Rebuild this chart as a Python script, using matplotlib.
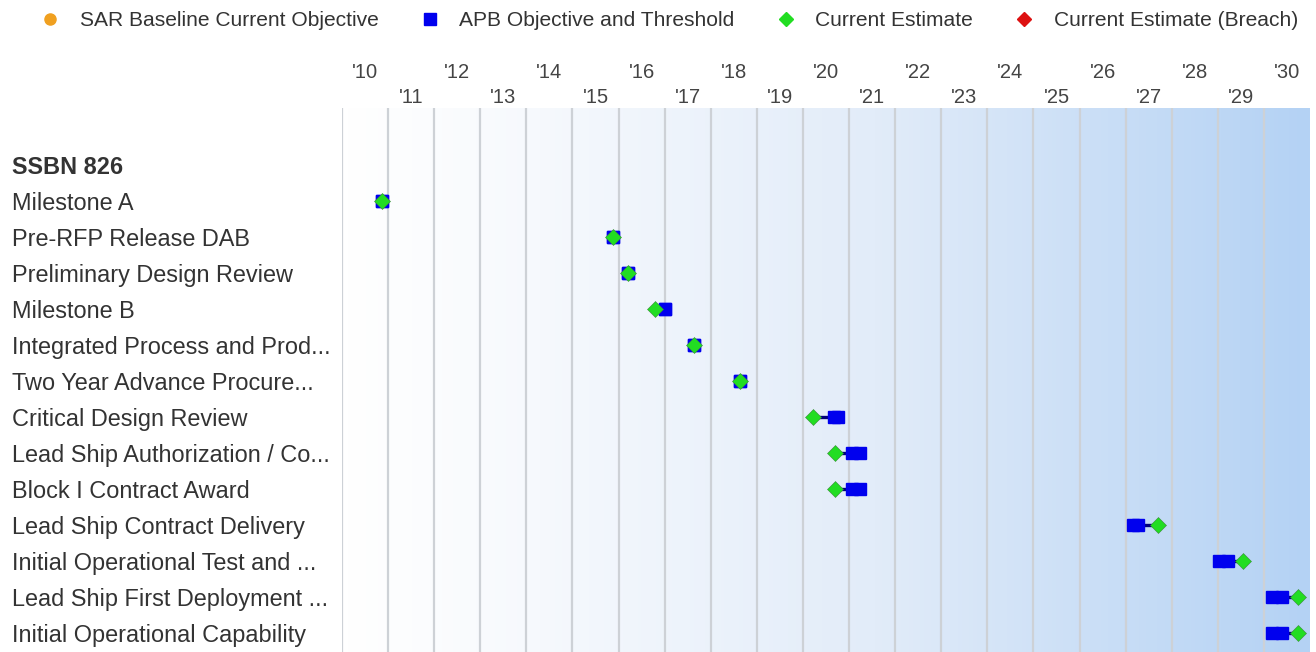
import matplotlib
matplotlib.use("Agg")
import matplotlib.pyplot as plt
import numpy as np
from matplotlib.lines import Line2D
from matplotlib.colors import LinearSegmentedColormap

plt.rcParams['font.family'] = ['Liberation Sans', 'DejaVu Sans']

# ---- data ----
program = "SSBN 826"
events = ["Milestone A", "Pre-RFP Release DAB", "Preliminary Design Review", "Milestone B",
          "Integrated Process and Prod...", "Two Year Advance Procure...", "Critical Design Review",
          "Lead Ship Authorization / Co...", "Block I Contract Award", "Lead Ship Contract Delivery",
          "Initial Operational Test and ...", "Lead Ship First Deployment ...",
          "Initial Operational Capability"]
estimate = [2010.87, 2015.88, 2016.20, 2016.79, 2017.64, 2018.63, 2020.22,
            2020.69, 2020.69, 2027.70, 2029.54, 2030.74, 2030.74]
apb_objective = [2010.87, 2015.88, 2016.20, 2017.00, 2017.64, 2018.63, 2020.68,
                 2021.07, 2021.07, 2027.17, 2029.03, 2030.18, 2030.18]
apb_threshold = [2010.87, 2015.88, 2016.20, 2017.00, 2017.64, 2018.63, 2020.75,
                 2021.24, 2021.24, 2027.27, 2029.22, 2030.39, 2030.39]
years = list(range(2010, 2031))
legend_labels = ["SAR Baseline Current Objective", "APB Objective and Threshold",
                 "Current Estimate", "Current Estimate (Breach)"]

# ---- figure ----
W, H = 1316, 652
fig = plt.figure(figsize=(W / 100, H / 100), dpi=100)
ax_left, ax_right, ax_top = 342, 1310, 108
ax = fig.add_axes([ax_left / W, 0, (ax_right - ax_left) / W, 1 - ax_top / H])

row_px = 36
first_row_px = 165
y_top = -(first_row_px - ax_top) / row_px
y_bot = (H - first_row_px) / row_px
ax.set_xlim(2010, 2031)
ax.set_ylim(y_bot, y_top)

# background gradient
cmap = LinearSegmentedColormap.from_list("bg", [(0, "#ffffff"), (0.2, "#f6f9fd"),
                                                (0.55, "#e2ecf9"), (1, "#b4d2f4")])
grad = np.linspace(0, 1, 256).reshape(1, -1)
ax.imshow(grad, extent=[2010, 2031, y_bot, y_top], aspect='auto', cmap=cmap,
          zorder=0, interpolation='bilinear')

# year grid lines
for yr in years:
    ax.axvline(yr, color='#cdd1d6', lw=1.6, zorder=1)

blue = '#0000ee'
green = '#22dd22'
navy = '#00007a'

rows = np.arange(1, len(events) + 1)
for r, e, o, t in zip(rows, estimate, apb_objective, apb_threshold):
    near = o if abs(e - o) <= abs(e - t) else t
    if abs(e - near) > 1e-6:
        ax.plot([e, near], [r, r], color=navy, lw=2.4, zorder=2, solid_capstyle='butt')
    if abs(t - o) > 1e-6:
        ax.plot([o, t], [r, r], color=blue, lw=8, zorder=3, solid_capstyle='butt')
    ax.plot([o, t], [r, r], ls='none', marker='s', ms=9, color=blue, zorder=3)
    ax.plot([e], [r], ls='none', marker='D', ms=8.5, color=green, mec='#3a8a3a', mew=0.4, zorder=4)

# y labels
ax.set_yticks(range(len(events) + 1))
ylabels = ax.set_yticklabels([program] + events, ha='left', fontsize=16.9, color='#333333')
ylabels[0].set_fontweight('bold')
ax.tick_params(axis='y', length=0, pad=(ax_left - 12) * 0.72)

# x labels on top: even years upper row, odd years lower row
ax.xaxis.tick_top()
even = [y for y in years if y % 2 == 0]
odd = [y for y in years if y % 2 == 1]
ax.set_xticks([y + 0.5 for y in even])
ax.set_xticklabels(["'%02d" % (y % 100) for y in even], fontsize=14.5, color='#444444')
ax.set_xticks([y + 0.5 for y in odd], minor=True)
ax.set_xticklabels(["'%02d" % (y % 100) for y in odd], minor=True, fontsize=14.5, color='#444444')
ax.tick_params(axis='x', which='major', length=0, pad=19)
ax.tick_params(axis='x', which='minor', length=0, pad=0.5)

for s in ax.spines.values():
    s.set_visible(False)

# legend
handles = [
    Line2D([], [], ls='none', marker='o', ms=8, color='#f0a020'),
    Line2D([], [], ls='none', marker='s', ms=8, color=blue),
    Line2D([], [], ls='none', marker='D', ms=7, color=green),
    Line2D([], [], ls='none', marker='D', ms=7, color='#dd1111'),
]
leg = fig.legend(handles, legend_labels, loc='center left', bbox_to_anchor=(42 / W, 1 - 21 / H),
                 ncol=4, frameon=False, fontsize=15.1, handlelength=0.8, handletextpad=1.0,
                 columnspacing=2.05, borderpad=0, borderaxespad=0)
for t in leg.get_texts():
    t.set_color('#333333')

fig.savefig("out.png", dpi=100)
